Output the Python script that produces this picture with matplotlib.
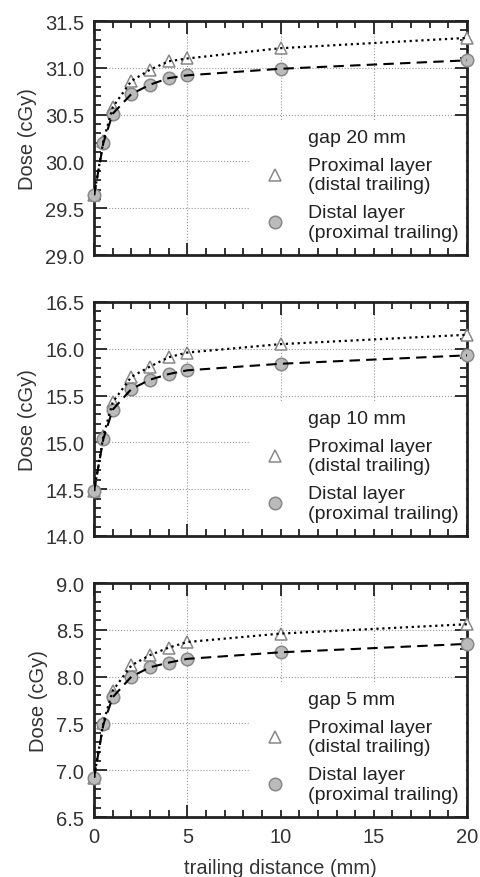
import matplotlib
matplotlib.use("Agg")
import matplotlib.pyplot as plt
from matplotlib.lines import Line2D
from matplotlib.ticker import MultipleLocator

plt.rcParams['font.family'] = ['Liberation Sans', 'DejaVu Sans']

distance = [0, 0.5, 1, 2, 3, 4, 5, 10, 20]

gap_labels = ["gap 20 mm", "gap 10 mm", "gap 5 mm"]

proximal_20 = [29.64, 30.22, 30.58, 30.86, 30.98, 31.07, 31.10, 31.21, 31.32]
distal_20 = [29.64, 30.20, 30.51, 30.72, 30.82, 30.89, 30.92, 30.99, 31.08]

proximal_10 = [14.48, 15.07, 15.43, 15.70, 15.81, 15.91, 15.96, 16.05, 16.15]
distal_10 = [14.48, 15.04, 15.35, 15.57, 15.67, 15.73, 15.77, 15.84, 15.93]

proximal_5 = [6.92, 7.51, 7.85, 8.12, 8.23, 8.31, 8.37, 8.46, 8.56]
distal_5 = [6.92, 7.49, 7.78, 8.00, 8.10, 8.15, 8.19, 8.26, 8.35]

ylims = [(29.0, 31.5), (14.0, 16.5), (6.5, 9.0)]
xticks = [0, 5, 10, 15, 20]

proximal = [proximal_20, proximal_10, proximal_5]
distal = [distal_20, distal_10, distal_5]

fig = plt.figure(figsize=(4.8, 8.78), dpi=100)
bottoms = [0.7084, 0.3884, 0.0683]
left, width, height = 0.196, 0.777, 0.2665

dark = '#222222'
txt = '#333333'
FS = 14.5
for i in range(3):
    ax = fig.add_axes([left, bottoms[i], width, height])
    # markers
    ax.plot(distance, proximal[i], linestyle='none', marker='^', markersize=9,
            markerfacecolor='white', markeredgecolor='#888888', markeredgewidth=1.1,
            clip_on=False, zorder=3)
    ax.plot(distance, distal[i], linestyle='none', marker='o', markersize=9,
            markerfacecolor='#bbbbbb', markeredgecolor='#888888', markeredgewidth=1.1,
            clip_on=False, zorder=3)
    # lines on top
    ax.plot(distance, proximal[i], linestyle=':', color='black', linewidth=1.6, zorder=4)
    ax.plot(distance, distal[i], linestyle=(0, (5, 3)), color='black', linewidth=1.5, zorder=4)

    ax.set_xlim(0, 20)
    ax.set_ylim(*ylims[i])
    ax.xaxis.set_major_locator(MultipleLocator(5))
    ax.xaxis.set_minor_locator(MultipleLocator(1))
    ax.yaxis.set_minor_locator(MultipleLocator(0.1))
    ax.set_yticks([ylims[i][0] + 0.5 * k for k in range(6)])
    ax.set_yticklabels([f"{ylims[i][0] + 0.5 * k:.1f}" for k in range(6)])
    ax.tick_params(which='both', direction='in', top=True, right=True,
                   color=dark, width=1.3, labelcolor=txt, labelsize=FS)
    ax.tick_params(which='major', length=9)
    ax.tick_params(which='minor', length=5)
    ax.tick_params(axis='y', pad=7)
    ax.tick_params(axis='x', pad=7)
    ax.grid(True, which='major', linestyle=':', color='#999999', linewidth=0.8, zorder=0)
    ax.set_axisbelow(True)
    for sp in ax.spines.values():
        sp.set_linewidth(2.0)
        sp.set_color(dark)
    ax.set_ylabel("Dose (cGy)", fontsize=14.5, color=txt, labelpad=6)
    if i < 2:
        ax.set_xticklabels([])
    else:
        ax.set_xticks(xticks)
        ax.set_xticklabels([str(t) for t in xticks])
        ax.set_xlabel("trailing distance (mm)", fontsize=14.5, color=txt, labelpad=9)

    h0 = Line2D([], [], linestyle='none', marker='')
    h1 = Line2D([], [], linestyle='none', marker='^', markersize=9,
                markerfacecolor='white', markeredgecolor='#888888', markeredgewidth=1.1)
    h2 = Line2D([], [], linestyle='none', marker='o', markersize=9,
                markerfacecolor='#bbbbbb', markeredgecolor='#888888', markeredgewidth=1.1)
    leg = ax.legend([h0, h1, h2],
                    [gap_labels[i], "Proximal layer\n(distal trailing)",
                     "Distal layer\n(proximal trailing)"],
                    loc='lower right', bbox_to_anchor=(0.997, 0.028),
                    frameon=True, fontsize=14,
                    borderaxespad=0.0, borderpad=0.4, labelspacing=0.55,
                    handletextpad=0.75, handlelength=1.8, fancybox=False)
    leg.get_frame().set_facecolor('white')
    leg.get_frame().set_edgecolor('none')
    leg.get_frame().set_alpha(1.0)
    leg.set_zorder(5)
    for t in leg.get_texts():
        t.set_color(dark)
        t.set_linespacing(1.2)

fig.savefig("out.png", dpi=100)
